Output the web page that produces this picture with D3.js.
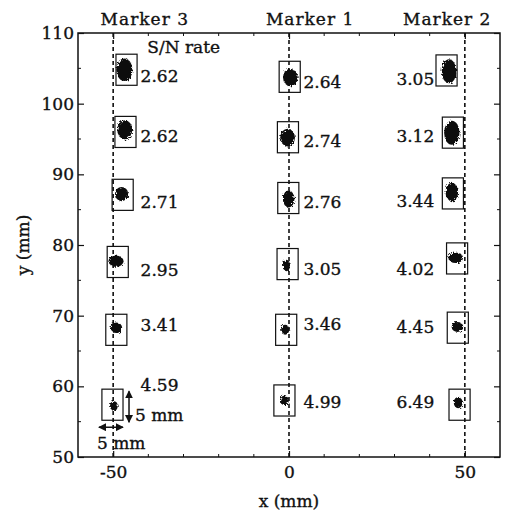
<!DOCTYPE html>
<html>
<head>
<meta charset="utf-8">
<script src="https://cdn.jsdelivr.net/npm/d3@7"></script>
<style>
body { margin: 0; background: #fff; }
text { font-family: 'DejaVu Serif', serif; font-size: 17px; fill: #111; stroke: #111; stroke-width: 0.35px; }
</style>
</head>
<body>
<div class="chart"></div>
<script>
//Data (mm)
const markers = ['Marker 3', 'Marker 1', 'Marker 2'];
const markerX = [-50, 0, 50];

//box centres
const marker3BoxX = [-46.2, -46.5, -47.3, -48.7, -49.1, -50.2];
const marker3BoxY = [104.8, 96.0, 87.1, 77.6, 68.0, 57.4];
const marker1BoxX = [0.2, -0.3, -0.2, -0.4, -0.8, -1.3];
const marker1BoxY = [103.8, 95.25, 86.65, 77.3, 68.0, 58.0];
const marker2BoxX = [44.8, 46.6, 46.6, 47.8, 48.0, 48.5];
const marker2BoxY = [104.7, 95.9, 87.3, 78.1, 68.3, 57.4];

//spot centres and spread (width, height)
const marker3SpotX = [-46.8, -46.7, -47.6, -49.2, -49.1, -49.8];
const marker3SpotY = [104.8, 96.3, 87.2, 77.7, 68.3, 57.2];
const marker3SpotW = [4.6, 4.3, 3.8, 4.3, 3.3, 2.2];
const marker3SpotH = [3.2, 2.7, 2.0, 1.6, 1.5, 1.4];
const marker1SpotX = [0.4, -0.4, -0.1, -0.7, -1.1, -1.3];
const marker1SpotY = [103.7, 95.2, 86.5, 77.1, 68.0, 58.0];
const marker1SpotW = [4.2, 4.2, 3.3, 2.0, 2.3, 2.5];
const marker1SpotH = [2.5, 2.5, 2.4, 1.6, 1.4, 1.3];
const marker2SpotX = [45.5, 46.3, 46.3, 47.4, 47.9, 48.1];
const marker2SpotY = [104.6, 95.9, 87.5, 78.2, 68.4, 57.7];
const marker2SpotW = [4.2, 4.4, 3.6, 4.2, 3.3, 2.5];
const marker2SpotH = [3.4, 3.4, 2.6, 1.5, 1.4, 1.6];

//S/N rates
const marker3Rate = ['2.62', '2.62', '2.71', '2.95', '3.41', '4.59'];
const marker1Rate = ['2.64', '2.74', '2.76', '3.05', '3.46', '4.99'];
const marker2Rate = ['3.05', '3.12', '3.44', '4.02', '4.45', '6.49'];
const marker3LabelY = [103.1, 94.6, 85.2, 75.65, 67.9, 59.4];
const marker1LabelY = [102.2, 93.8, 85.2, 75.75, 68.0, 56.9];
const marker2LabelY = [102.6, 94.6, 85.4, 75.75, 67.5, 56.9];

const xTicks = [-50, 0, 50];
const yTicks = [50, 60, 70, 80, 90, 100, 110];

//Box size as drawn
const BOX_W = 6;
const BOX_H = 4.4;

const WIDTH = 514;
const HEIGHT = 518;

let svg = d3.select('.chart')
.append('svg')
.attr('width', WIDTH)
.attr('height', HEIGHT);

//rough edges for the spots
let filter = svg.append('defs').append('filter')
.attr('id', 'rough')
.attr('x', '-50%').attr('y', '-50%')
.attr('width', '200%').attr('height', '200%');
filter.append('feTurbulence')
.attr('type', 'fractalNoise')
.attr('baseFrequency', 0.6)
.attr('numOctaves', 2)
.attr('seed', 4);
filter.append('feDisplacementMap')
.attr('in', 'SourceGraphic')
.attr('scale', 5);

//arrow heads
svg.select('defs').append('marker')
.attr('id', 'head')
.attr('viewBox', '0 0 10 10')
.attr('refX', 9).attr('refY', 5)
.attr('markerWidth', 8).attr('markerHeight', 8)
.attr('markerUnits', 'userSpaceOnUse')
.attr('orient', 'auto-start-reverse')
.append('path')
.attr('d', 'M0,0L10,5L0,10Z')
.style('fill', '#111');

//Scales
const x = d3.scaleLinear().domain([-60, 60]).range([78, 500]);
const y = d3.scaleLinear().domain([50, 110]).range([457, 33]);

//Frame
svg.append('rect')
.attr('x', x(-60))
.attr('y', y(110))
.attr('width', x(60) - x(-60))
.attr('height', y(50) - y(110))
.style('fill', 'none')
.style('stroke', '#111')
.style('stroke-width', 1.5);

//Axes (ticks inward)
svg.append('g')
.attr('transform', `translate(0,${y(50)})`)
.call(d3.axisBottom(x).tickValues(xTicks).tickSize(-6).tickPadding(9).tickFormat(d => String(d)))
.call(g => g.select('.domain').remove());

svg.append('g')
.attr('transform', `translate(${x(-60)},0)`)
.call(d3.axisLeft(y).tickValues(yTicks).tickSize(-6).tickPadding(4))
.call(g => g.select('.domain').remove());

svg.append('g')
.attr('transform', `translate(0,${y(110)})`)
.call(d3.axisTop(x).tickValues(xTicks).tickSize(-6).tickFormat(''))
.call(g => g.select('.domain').remove());

svg.append('g')
.attr('transform', `translate(${x(60)},0)`)
.call(d3.axisRight(y).tickValues(yTicks).tickSize(-6).tickFormat(''))
.call(g => g.select('.domain').remove());

svg.selectAll('.tick line').style('stroke', '#111').style('stroke-width', 1.2);

//minor ticks
let minor = svg.append('g').style('stroke', '#111').style('stroke-width', 1);
d3.range(-40, 60, 10).filter(d => !xTicks.includes(d)).forEach(d => {
    minor.append('line').attr('x1', x(d)).attr('x2', x(d)).attr('y1', y(50)).attr('y2', y(50) - 3);
    minor.append('line').attr('x1', x(d)).attr('x2', x(d)).attr('y1', y(110)).attr('y2', y(110) + 3);
});
d3.range(55, 110, 10).forEach(d => {
    minor.append('line').attr('x1', x(-60)).attr('x2', x(-60) + 3).attr('y1', y(d)).attr('y2', y(d));
    minor.append('line').attr('x1', x(60)).attr('x2', x(60) - 3).attr('y1', y(d)).attr('y2', y(d));
});

//Dashed marker lines
svg.append('g')
.selectAll()
.data(markerX)
.enter()
.append('line')
.attr('x1', d => x(d))
.attr('x2', d => x(d))
.attr('y1', y(110))
.attr('y2', y(50))
.style('stroke', '#111')
.style('stroke-width', 1.6)
.style('stroke-dasharray', '4,3');

//Marker names above the plot
const headerX = [-41, 6, 45];
svg.append('g')
.selectAll()
.data(markers)
.enter()
.append('text')
.attr('x', (d, i) => x(headerX[i]))
.attr('y', 25)
.attr('text-anchor', 'middle')
.style('letter-spacing', '1px')
.text(d => d);

//Build the rows for each marker
function makeRows(bx, by, sx, sy, sw, sh, rate, ly, col) {
    return bx.map((d, i) => ({
        col: col,
        bx: d, by: by[i],
        sx: sx[i], sy: sy[i], sw: sw[i], sh: sh[i],
        rate: rate[i], ly: ly[i]
    }));
}

let rows = [].concat(
    makeRows(marker3BoxX, marker3BoxY, marker3SpotX, marker3SpotY, marker3SpotW, marker3SpotH, marker3Rate, marker3LabelY, 0),
    makeRows(marker1BoxX, marker1BoxY, marker1SpotX, marker1SpotY, marker1SpotW, marker1SpotH, marker1Rate, marker1LabelY, 1),
    makeRows(marker2BoxX, marker2BoxY, marker2SpotX, marker2SpotY, marker2SpotW, marker2SpotH, marker2Rate, marker2LabelY, 2)
);

//Spots
svg.append('g')
.selectAll()
.data(rows)
.enter()
.append('ellipse')
.attr('cx', d => x(d.sx))
.attr('cy', d => y(d.sy))
.attr('rx', d => (x(d.sw) - x(0)) / 2)
.attr('ry', d => (y(0) - y(d.sh)) / 2)
.attr('filter', 'url(#rough)')
.style('fill', '#111');

//Boxes
svg.append('g')
.selectAll()
.data(rows)
.enter()
.append('rect')
.attr('x', d => x(d.bx - BOX_W / 2))
.attr('y', d => y(d.by + BOX_H / 2))
.attr('width', x(BOX_W) - x(0))
.attr('height', y(0) - y(BOX_H))
.style('fill', 'none')
.style('stroke', '#111')
.style('stroke-width', 1.2);

//S/N labels: left two columns to the right, Marker 2 to the left
const labelX = [-42.2, 4.1, 41.3];
svg.append('g')
.selectAll()
.data(rows)
.enter()
.append('text')
.attr('x', d => x(labelX[d.col]))
.attr('y', d => y(d.ly))
.attr('text-anchor', d => d.col == 2 ? 'end' : 'start')
.text(d => d.rate);

svg.append('text')
.attr('x', x(-40.3))
.attr('y', y(107.2))
.text('S/N rate');

//5 mm size arrows on the bottom Marker 3 box
let last = rows[5];
let bLeft = x(last.bx - BOX_W / 2);
let bRight = x(last.bx + BOX_W / 2);
let bTop = y(last.by + BOX_H / 2);
let bBottom = y(last.by - BOX_H / 2);

svg.append('line')
.attr('x1', bRight + 6).attr('x2', bRight + 6)
.attr('y1', bTop + 2).attr('y2', bBottom + 2)
.attr('marker-start', 'url(#head)')
.attr('marker-end', 'url(#head)')
.style('stroke', '#111').style('stroke-width', 1.5);

svg.append('text')
.attr('x', bRight + 12)
.attr('y', bBottom + 1)
.text('5 mm');

svg.append('line')
.attr('x1', bLeft - 3).attr('x2', bRight)
.attr('y1', bBottom + 7).attr('y2', bBottom + 7)
.attr('marker-start', 'url(#head)')
.attr('marker-end', 'url(#head)')
.style('stroke', '#111').style('stroke-width', 1.5);

svg.append('text')
.attr('x', bLeft - 5)
.attr('y', bBottom + 29)
.text('5 mm');

//Axis titles
svg.append('text')
.attr('x', x(0))
.attr('y', 507)
.attr('text-anchor', 'middle')
.text('x (mm)');

svg.append('text')
.attr('transform', `translate(29,${(y(50) + y(110)) / 2}) rotate(-90)`)
.attr('text-anchor', 'middle')
.text('y (mm)');
</script>
</body>
</html>
